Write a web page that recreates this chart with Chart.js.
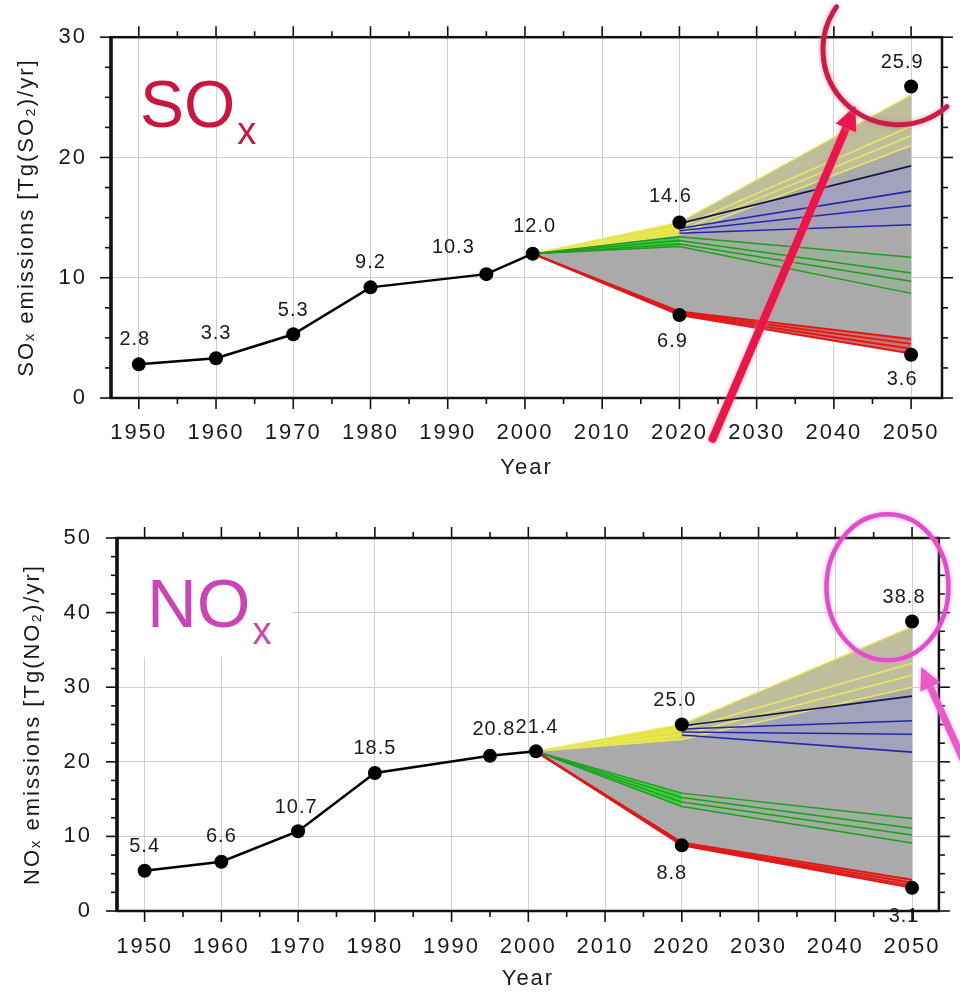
<!DOCTYPE html>
<html><head><meta charset="utf-8">
<script src="https://cdn.jsdelivr.net/npm/chart.js@4.4.0/dist/chart.umd.min.js"></script>
<style>
html,body{margin:0;padding:0;background:#fff;}
#wrap{position:relative;width:960px;height:995px;overflow:hidden;background:#fff;}
#c1{position:absolute;left:0;top:0;}
#c2{position:absolute;left:0;top:495px;}
</style></head><body>
<div id="wrap"><canvas id="c1" width="960" height="495"></canvas><canvas id="c2" width="960" height="500"></canvas></div>
<script>
// ================= DATA =================
const xTicks = [1950,1960,1970,1980,1990,2000,2010,2020,2030,2040,2050];
const histYears = [1950,1960,1970,1980,1995,2001];
const markYears = [2020,2020,2050,2050];
const fanYears = [2001,2020,2050];
const lateYears = [2020,2050];

// SOx
const soxYTicks = [0,10,20,30];
const soxHist = [2.8,3.3,5.3,9.2,10.3,12.0];
const soxMarks = [14.6,6.9,25.9,3.6];
const soxYellow = [[12.0,14.6,25.2],[12.0,14.2,22.6],[12.0,13.9,21.8],[12.0,13.6,21.0]];
const soxBlue   = [[14.5,19.3],[14.1,17.2],[13.9,16.0],[13.7,14.4]];
const soxGreen  = [[12.0,13.4,11.7],[12.0,13.1,10.4],[12.0,12.8,9.7],[12.0,12.6,8.7]];
const soxRed    = [[12.0,7.2,4.9],[12.0,7.1,4.5],[12.0,7.0,4.1],[12.0,6.9,3.7]];

// NOx
const noxYTicks = [0,10,20,30,40,50];
const noxHist = [5.4,6.6,10.7,18.5,20.8,21.4];
const noxMarks = [25.0,8.8,38.8,3.1];
const noxYellow = [[21.4,25.0,38.1],[21.4,24.3,33.2],[21.4,23.6,31.6],[21.4,23.0,30.0]];
const noxBlue   = [[24.8,28.8],[24.4,25.5],[24.0,23.7],[23.6,21.3]];
const noxGreen  = [[21.4,15.8,12.4],[21.4,15.2,11.1],[21.4,14.6,10.2],[21.4,14.0,9.1]];
const noxRed    = [[21.4,9.2,4.2],[21.4,9.0,3.8],[21.4,8.9,3.4],[21.4,8.8,3.1]];

// ================= STYLE =================
const FONT = "'Liberation Sans', Arial, Helvetica, sans-serif";
const TXT = '#1a1a1a';
// label offsets in px [dx, dy] (style only)
const soxHistOff = [[-4,-25],[0,-25],[0,-24],[0,-25],[-33,-27],[2,-27]];
const soxMarkOff = [[-9,-26],[-7,26],[-9,-24],[-9,25]];
const noxHistOff = [[0,-24],[0,-25],[-2,-24],[0,-25],[4,-26],[1,-24]];
const noxMarkOff = [[-7,-24],[-10,28],[-8,-24],[-8,29]];

function makeChart(canvasId, cfg) {
  const ds = [];
  const P = (xs, ys) => xs.map((x, i) => ({x: x, y: ys[i]}));
  const L = (data, color, width, order, extra) => Object.assign({
    type: 'line', data: data, borderColor: color, borderWidth: width,
    pointRadius: 0, pointHoverRadius: 0, fill: false, order: order, tension: 0
  }, extra || {});
  const band = (up, lo, color, order) => {
    const loIdx = ds.length + 1;
    ds.push(L(up, 'rgba(0,0,0,0)', 1, order, {fill: {target: loIdx, above: color, below: color}}));
    ds.push(L(lo, 'rgba(0,0,0,0)', 1, order));
  };
  const last = a => a[a.length - 1];
  const early = fanYears.slice(0, 2);
  band(P(fanYears, cfg.yellow[0]), P(fanYears, last(cfg.red)), '#aaaaaa', 30);
  band(P(early, cfg.yellow[0].slice(0,2)), P(early, last(cfg.yellow).slice(0,2)), 'rgba(232,232,50,0.92)', 20);
  band(P(lateYears, cfg.yellow[0].slice(1)), P(lateYears, last(cfg.yellow).slice(1)), 'rgba(238,238,130,0.3)', 20);
  band(P(lateYears, cfg.blue[0]), P(lateYears, last(cfg.blue)), 'rgba(135,135,255,0.22)', 20);
  band(P(early, cfg.green[0].slice(0,2)), P(early, last(cfg.green).slice(0,2)), 'rgba(55,205,55,0.9)', 20);
  band(P(lateYears, cfg.green[0].slice(1)), P(lateYears, last(cfg.green).slice(1)), 'rgba(90,210,90,0.15)', 20);
  band(P(early, cfg.red[0].slice(0,2)), P(early, last(cfg.red).slice(0,2)), 'rgba(175,20,20,0.85)', 20);
  band(P(lateYears, cfg.red[0].slice(1)), P(lateYears, last(cfg.red).slice(1)), 'rgba(240,60,60,0.5)', 20);
  cfg.yellow.forEach(v => ds.push(L(P(fanYears, v), '#e8e860', 1.5, 13)));
  cfg.blue.forEach((v, i) => ds.push(L(P(lateYears, v), i === 0 ? '#16164c' : '#2626aa', 1.6, 12)));
  cfg.green.forEach(v => ds.push(L(P(fanYears, v), '#1e9e1e', 1.5, 11)));
  cfg.red.forEach(v => ds.push(L(P(fanYears, v), '#e01818', 2, 10)));
  ds.push(L(P(histYears, cfg.hist), '#000', 2.5, 1, {pointRadius: 7, pointBackgroundColor: '#000', pointBorderColor: '#000', pointBorderWidth: 0, labelOffsets: cfg.histOff, labelValues: cfg.hist}));
  ds.push(L(P(markYears, cfg.marks), '#000', 0, 0, {showLine: false, pointRadius: 7, pointBackgroundColor: '#000', pointBorderColor: '#000', pointBorderWidth: 0, labelOffsets: cfg.markOff, labelValues: cfg.marks}));

  const deco = {
    id: 'deco',
    beforeDraw(chart) { chart.ctx.letterSpacing = '2px'; },
    beforeDatasetsDraw(chart) {
      const ctx = chart.ctx, a = chart.chartArea;
      ctx.save();
      if (cfg.whiteBox) { ctx.fillStyle = '#fff'; ctx.fillRect(a.left + 2, a.top + 2, cfg.whiteBox[0], cfg.whiteBox[1]); }
      ctx.letterSpacing = '0px';
      ctx.fillStyle = cfg.big.color; ctx.textAlign = 'left'; ctx.textBaseline = 'alphabetic';
      ctx.font = cfg.big.size + 'px ' + FONT;
      const bx = a.left + cfg.big.pos[0], by = a.top + cfg.big.pos[1];
      ctx.fillText(cfg.big.main, bx, by);
      const w = ctx.measureText(cfg.big.main).width;
      ctx.font = cfg.big.subSize + 'px ' + FONT;
      ctx.fillText(cfg.big.sub, bx + w + cfg.big.subShift[0], by + cfg.big.subShift[1]);
      ctx.restore();
    },
    afterDatasetsDraw(chart) {
      const ctx = chart.ctx, a = chart.chartArea;
      const xs = chart.scales.x, ys = chart.scales.y;
      // data labels
      ctx.save();
      ctx.letterSpacing = '1px';
      ctx.font = '20px ' + FONT; ctx.fillStyle = TXT; ctx.textAlign = 'center'; ctx.textBaseline = 'middle';
      chart.data.datasets.forEach((d, di) => {
        if (!d.labelValues) return;
        const meta = chart.getDatasetMeta(di);
        meta.data.forEach((pt, i) => {
          const off = d.labelOffsets[i];
          ctx.fillText(d.labelValues[i].toFixed(1), pt.x + off[0], pt.y + off[1]);
        });
      });
      ctx.restore();
      // frame + ticks
      ctx.save();
      ctx.strokeStyle = '#111';
      const seg = (x1, y1, x2, y2) => { ctx.beginPath(); ctx.moveTo(x1, y1); ctx.lineTo(x2, y2); ctx.stroke(); };
      ctx.lineWidth = 1.6;
      for (let v = Math.ceil(xs.min / cfg.xMinor) * cfg.xMinor; v <= xs.max + 1e-9; v += cfg.xMinor) {
        const px = xs.getPixelForValue(v);
        const len = xTicks.includes(v) ? 11 : 6;
        seg(px, a.bottom, px, a.bottom + len);
        seg(px, a.top, px, a.top - len);
      }
      for (let v = ys.min; v <= ys.max + 1e-9; v += cfg.yMinor) {
        const py = ys.getPixelForValue(v);
        const len = cfg.yTicks.includes(v) ? 11 : 6;
        seg(a.left, py, a.left - len, py);
        seg(a.right, py, a.right + len, py);
      }
      ctx.lineWidth = 2.5;
      ctx.strokeRect(a.left, a.top, a.right - a.left, a.bottom - a.top);
      ctx.lineWidth = 3.5;
      seg(a.left, a.top - 1, a.left, a.bottom + 1);
      ctx.restore();
    },
    afterDraw(chart) {
      const ctx = chart.ctx;
      const xs = chart.scales.x, ys = chart.scales.y;
      const X = v => xs.getPixelForValue(v), Y = v => ys.getPixelForValue(v);
      cfg.annos.forEach(an => {
        ctx.save();
        ctx.strokeStyle = an.color; ctx.fillStyle = an.color; ctx.lineWidth = an.width;
        ctx.shadowColor = an.glow; ctx.shadowBlur = 5; ctx.lineCap = 'round';
        if (an.type === 'arrow') {
          const x1 = X(an.from[0]), y1 = Y(an.from[1]), x2 = X(an.to[0]), y2 = Y(an.to[1]);
          const ang = Math.atan2(y2 - y1, x2 - x1);
          const hl = an.head[0], hw = an.head[1];
          const bx = x2 - hl * Math.cos(ang), by = y2 - hl * Math.sin(ang);
          ctx.beginPath(); ctx.moveTo(x1, y1); ctx.lineTo(bx, by); ctx.stroke();
          ctx.beginPath(); ctx.moveTo(x2, y2);
          ctx.lineTo(bx + hw / 2 * Math.sin(ang), by - hw / 2 * Math.cos(ang));
          ctx.lineTo(bx - hw / 2 * Math.sin(ang), by + hw / 2 * Math.cos(ang));
          ctx.closePath(); ctx.fill();
        } else if (an.type === 'arc') {
          ctx.beginPath(); ctx.arc(X(an.center[0]), Y(an.center[1]), an.r, an.start, an.end); ctx.stroke();
        } else if (an.type === 'ellipse') {
          ctx.beginPath(); ctx.ellipse(X(an.center[0]), Y(an.center[1]), an.rx, an.ry, 0, 0, Math.PI * 2); ctx.stroke();
        }
        ctx.restore();
      });
    }
  };

  return new Chart(document.getElementById(canvasId), {
    type: 'line',
    data: {datasets: ds},
    options: {
      responsive: false, animation: false, devicePixelRatio: 1,
      layout: {padding: cfg.padding},
      plugins: {legend: {display: false}, tooltip: {enabled: false}},
      events: [],
      scales: {
        x: {
          type: 'linear', min: cfg.xMin, max: cfg.xMax,
          afterFit: s => { s.height = cfg.xAxisH; },
          afterBuildTicks: s => { s.ticks = xTicks.map(v => ({value: v})); },
          ticks: {font: {family: FONT, size: 22}, color: TXT, padding: cfg.xTickPad, maxRotation: 0, autoSkip: false, callback: v => String(v)},
          grid: {color: '#cfcfcf', lineWidth: 1, drawTicks: false},
          border: {display: false},
          title: {display: true, text: 'Year', font: {family: FONT, size: 22}, color: TXT, padding: {top: 0, bottom: cfg.xTitlePad}}
        },
        y: {
          type: 'linear', min: cfg.yMin, max: cfg.yMax,
          afterFit: s => { s.width = cfg.yAxisW; },
          afterBuildTicks: s => { s.ticks = cfg.yTicks.map(v => ({value: v})); },
          ticks: {font: {family: FONT, size: 22}, color: TXT, padding: cfg.yTickPad, callback: v => String(v)},
          grid: {color: '#cfcfcf', lineWidth: 1, drawTicks: false},
          border: {display: false},
          title: {display: true, text: cfg.yTitle, font: {family: FONT, size: 22}, color: TXT, padding: {top: cfg.yTitlePad, bottom: 0}}
        }
      }
    },
    plugins: [deco]
  });
}

makeChart('c1', {
  hist: soxHist, marks: soxMarks, yellow: soxYellow, blue: soxBlue, green: soxGreen, red: soxRed,
  histOff: soxHistOff, markOff: soxMarkOff,
  yTicks: soxYTicks, yMin: 0, yMax: 30, xMin: 1946.4, xMax: 2054, xMinor: 5, yMinor: 2.5,
  padding: {top: 25, right: 18, left: 0, bottom: 0},
  xAxisH: 97, yAxisW: 111, xTickPad: 22, yTickPad: 24, xTitlePad: 14, yTitlePad: 14,
  yTitle: 'SOₓ emissions [Tg(SO₂)/yr]',
  big: {main: 'SO', sub: 'x', color: '#c8163e', size: 66, subSize: 38, pos: [29, 90], subShift: [2, 17]},
  whiteBox: null,
  annos: [
    {type: 'arrow', from: [2024.3, -3.4], to: [2042.8, 24.3], color: '#e8174a', glow: 'rgba(255,120,150,0.7)', width: 8, head: [24, 22]},
    {type: 'arc', center: [2048.3, 28.96], r: 75, start: 0.86, end: 3.75, color: '#c61e46', glow: 'rgba(230,100,130,0.7)', width: 5}
  ]
});

makeChart('c2', {
  hist: noxHist, marks: noxMarks, yellow: noxYellow, blue: noxBlue, green: noxGreen, red: noxRed,
  histOff: noxHistOff, markOff: noxMarkOff,
  yTicks: noxYTicks, yMin: 0, yMax: 50, xMin: 1946.4, xMax: 2053.5, xMinor: 5, yMinor: 2.5,
  padding: {top: 43, right: 15, left: 0, bottom: 0},
  xAxisH: 84, yAxisW: 117, xTickPad: 23, yTickPad: 25, xTitlePad: 3, yTitlePad: 20,
  yTitle: 'NOₓ emissions [Tg(NO₂)/yr]',
  big: {main: 'NO', sub: 'x', color: '#cc44b4', size: 69, subSize: 38, pos: [30, 89], subShift: [2, 17]},
  whiteBox: [173, 117],
  annos: [
    {type: 'ellipse', center: [2046.8, 43.4], rx: 61, ry: 73, color: '#e04ec8', glow: 'rgba(240,140,220,0.7)', width: 4.5},
    {type: 'arrow', from: [2056.7, 20.2], to: [2051.2, 32.7], color: '#e85ac8', glow: 'rgba(240,140,220,0.7)', width: 7, head: [22, 22]}
  ]
});
</script>
</body></html>
